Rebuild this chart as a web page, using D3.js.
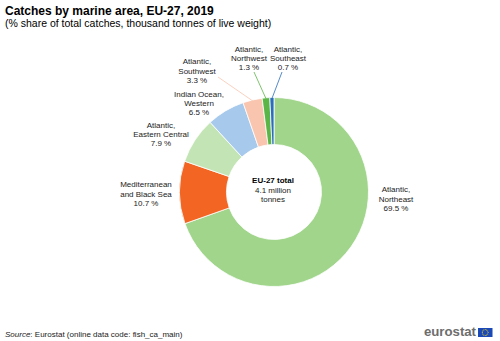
<!DOCTYPE html>
<html><head><meta charset="utf-8">
<script src="https://cdn.jsdelivr.net/npm/d3@7"></script>
<style>body{margin:0;background:#fff;}svg{display:block;font-family:"Liberation Sans",Arial,sans-serif;}</style>
</head><body>
<svg id="c" width="500" height="341"></svg>
<script>
const categories = ["Atlantic, Northeast","Mediterranean and Black Sea","Atlantic, Eastern Central","Indian Ocean, Western","Atlantic, Southwest","Atlantic, Northwest","Atlantic, Southeast"];
const labelLines = [["Atlantic,","Northeast"],["Mediterranean","and Black Sea"],["Atlantic,","Eastern Central"],["Indian Ocean,","Western"],["Atlantic,","Southwest"],["Atlantic,","Northwest"],["Atlantic,","Southeast"]];
const values = [69.5,10.7,7.9,6.5,3.3,1.3,0.7];
const colors = ["#a0d58b","#f26522","#c3e4b4","#a6c9ec","#f9c5ae","#5cb547","#2a6ebb"];
// layout: label centre (middle-line baseline) offsets from donut centre; leader start offsets from label
const labelOffsets = [[122,9.5],[-128,4.7],[-113,-55],[-75,-86],[-77,-118.5],[-25,-131],[14,-131]];
const leaderStart = [null,null,null,null,[21,3.5],[5,11],[-6,11]];

const svg = d3.select("#c");
const cx = 274, cy = 192, R = 94.5, r = 47.5;
svg.append("text").attr("x",5).attr("y",15).attr("font-size",12).attr("font-weight","bold").attr("fill","#000").text("Catches by marine area, EU-27, 2019");
svg.append("text").attr("x",5).attr("y",26.7).attr("font-size",10.5).attr("fill","#000").text("(% share of total catches, thousand tonnes of live weight)");

const g = svg.append("g").attr("transform",`translate(${cx},${cy})`);
const pie = d3.pie().sort(null).value(d=>d)(values);
const arc = d3.arc().innerRadius(r).outerRadius(R);
g.selectAll("path.s").data(pie).join("path").attr("class","s")
  .attr("d",arc).attr("fill",(d,i)=>colors[i]).attr("stroke","#fff").attr("stroke-width",0.8);

const edgeArc = d3.arc().innerRadius(R-1).outerRadius(R-1);
pie.forEach((d,i)=>{
  const [lx,ly] = labelOffsets[i];
  if(leaderStart[i]){
    const [ex,ey] = edgeArc.centroid(d);
    g.append("line").attr("x1",ex).attr("y1",ey).attr("x2",lx+leaderStart[i][0]).attr("y2",ly+leaderStart[i][1])
      .attr("stroke",colors[i]).attr("stroke-width",0.8);
  }
  const t = g.append("text").attr("text-anchor","middle").attr("font-size",8).attr("fill","#222");
  const lines = labelLines[i].concat([values[i].toFixed(1)+" %"]);
  lines.forEach((s,k)=>t.append("tspan").attr("x",lx).attr("y",ly+(k-1)*9.4).text(s));
});

const ct = g.append("text").attr("text-anchor","middle").attr("font-size",8).attr("fill","#222");
ct.append("tspan").attr("x",-1).attr("y",-8.7).attr("font-weight","bold").attr("fill","#000").text("EU-27 total");
ct.append("tspan").attr("x",-1).attr("y",0.6).text("4.1 million");
ct.append("tspan").attr("x",-1).attr("y",9.8).text("tonnes");

const src = svg.append("text").attr("x",5).attr("y",336.5).attr("font-size",8).attr("fill","#222");
src.append("tspan").attr("font-style","italic").text("Source");
src.append("tspan").text(": Eurostat (online data code: fish_ca_main)");

svg.append("text").attr("x",476).attr("y",336).attr("text-anchor","end").attr("font-size",13.2).attr("font-weight","bold").attr("fill","#6d6d6d").text("eurostat");
svg.append("rect").attr("x",478).attr("y",328).attr("width",14.5).attr("height",9).attr("fill","#1b49b8");
const stars = d3.range(12).map(k=>k*Math.PI/6);
svg.selectAll("circle.st").data(stars).join("circle").attr("class","st")
  .attr("cx",a=>485.2+2.9*Math.cos(a)).attr("cy",a=>332.5+2.9*Math.sin(a)).attr("r",0.5).attr("fill","#ffdd00");
</script>
</body></html>
